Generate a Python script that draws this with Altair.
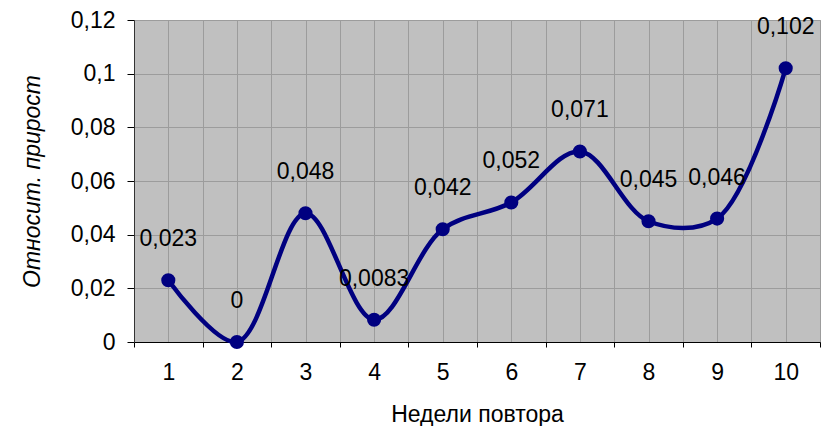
import altair as alt
import pandas as pd

weeks = [1, 2, 3, 4, 5, 6, 7, 8, 9, 10]
values = [0.023, 0.0, 0.048, 0.0083, 0.042, 0.052, 0.071, 0.045, 0.046, 0.102]
y_ticks = [0, 0.02, 0.04, 0.06, 0.08, 0.1, 0.12]
x_bounds = [0.5, 1.5, 2.5, 3.5, 4.5, 5.5, 6.5, 7.5, 8.5, 9.5, 10.5]

df = pd.DataFrame({"week": weeks, "v": values})

FONT = "Liberation Sans"
NAVY = "#000080"
GRID = "#9C9C9C"
W, H = 686, 322
x_scale = alt.Scale(domain=[0.5, 10.5], nice=False, zero=False)

# bottom axis: ticks + grid at category boundaries, labels shifted to category centres
x_bottom = alt.X(
    "week:Q",
    scale=x_scale,
    axis=alt.Axis(
        orient="bottom",
        values=x_bounds,
        title="Недели повтора",
        titleFont=FONT,
        titleFontSize=23,
        titleFontWeight="normal",
        titlePadding=19,
        labelFont=FONT,
        labelFontSize=23,
        labelPadding=14,
        labelOffset=W / 20,
        labelExpr="datum.value < 10 ? toString(datum.value + 0.5) : ''",
        labelOverlap=False,
        labelFlush=False,
        labelBound=False,
        tickSize=5,
        tickColor="#000000",
        domainColor="#000000",
        gridColor=GRID,
        grid=True,
    ),
)

# invisible top axis that only supplies grid lines at category centres
x_top = alt.X(
    "week:Q",
    scale=x_scale,
    axis=alt.Axis(
        orient="top",
        values=weeks,
        title=None,
        labels=False,
        ticks=False,
        domain=False,
        gridColor=GRID,
        grid=True,
    ),
)

y_enc = alt.Y(
    "v:Q",
    scale=alt.Scale(domain=[0, 0.12], nice=False),
    axis=alt.Axis(
        values=y_ticks,
        title="Относит. прирост",
        titleFont=FONT,
        titleFontSize=23,
        titleFontStyle="italic",
        titleFontWeight="normal",
        titlePadding=26,
        labelFont=FONT,
        labelFontSize=23,
        labelPadding=12,
        labelExpr="replace(format(datum.value, '~g'), '.', ',')",
        tickSize=7,
        tickColor="#000000",
        domainColor="#333333",
        gridColor=GRID,
        grid=True,
    ),
)

base = alt.Chart(df)

line = base.mark_line(interpolate="catmull-rom", color=NAVY, strokeWidth=4.5).encode(x=x_bottom, y=y_enc)
pts = base.mark_circle(color=NAVY, size=200, opacity=1).encode(x=x_top, y="v:Q")
txt = base.mark_text(font=FONT, fontSize=23, dy=-41, baseline="middle", align="center", color="#000000").transform_calculate(
    lab="replace(toString(datum.v), '.', ',')"
).encode(x=alt.X("week:Q", axis=None), y=alt.Y("v:Q"), text="lab:N")

chart = (
    alt.layer(line, pts, txt)
    .resolve_axis(x="independent")
    .properties(
        width=W,
        height=H,
        autosize=alt.AutoSizeParams(type="none"),
        padding={"left": 126, "top": 12, "right": 5, "bottom": 84},
        background="#FFFFFF",
    )
    .configure_view(fill="#C0C0C0", stroke=GRID, strokeWidth=1)
)

chart.save("out.html", embed_options={"renderer": "svg", "actions": False})
